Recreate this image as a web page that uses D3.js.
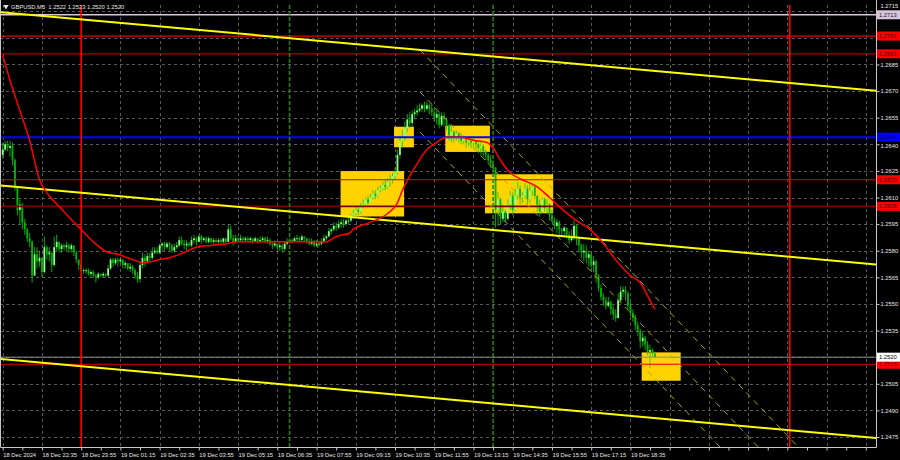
<!DOCTYPE html>
<html><head><meta charset="utf-8">
<script src="https://cdn.jsdelivr.net/npm/d3@7"></script>
<style>html,body{margin:0;padding:0;background:#000;}svg{display:block;}</style>
</head><body><svg id="c" width="900" height="460"></svg>
<script>
// ---------------- DATA ----------------
const symbolTitle = "GBPUSD,M5";
const titleOHLC = ["1.2522", "1.2523", "1.2520", "1.2520"];
// prices in 1/10000 units
const firstOpen = 12634;
const closes = [
12637,12640,12638,12639,12631,12616,12603,12606,12596,12592,
12587,12585,12566,12578,12574,12576,12568,12582,12578,12579,
12572,12582,12585,12581,12583,12582,12583,12581,12583,12579,
12575,12572,12569,12569,12569,12567,12568,12566,12565,12567,
12566,12567,12566,12570,12575,12573,12575,12574,12575,12572,
12573,12570,12571,12569,12566,12564,12572,12576,12574,12577,
12576,12579,12580,12579,12583,12584,12582,12584,12583,12580,
12582,12583,12586,12584,12583,12584,12583,12586,12587,12585,
12588,12586,12587,12585,12587,12585,12586,12585,12586,12585,
12587,12585,12592,12587,12585,12587,12586,12587,12586,12587,
12586,12587,12585,12587,12585,12586,12587,12585,12586,12584,
12583,12584,12582,12583,12581,12584,12585,12586,12585,12587,
12587,12586,12588,12587,12585,12584,12585,12583,12584,12584,
12585,12587,12588,12591,12592,12594,12593,12595,12596,12595,
12597,12597,12600,12601,12603,12602,12605,12606,12609,12607,
12610,12612,12611,12614,12615,12617,12616,12619,12620,12622,
12624,12634,12642,12644,12649,12654,12652,12657,12658,12659,
12660,12662,12660,12662,12660,12658,12655,12657,12651,12656,
12654,12651,12645,12647,12644,12646,12644,12642,12644,12641,
12642,12641,12642,12640,12638,12639,12636,12634,12631,12629,
12627,12603,12609,12598,12602,12598,12606,12611,12603,12611,
12615,12610,12611,12615,12609,12614,12616,12611,12606,12602,
12609,12604,12606,12600,12597,12594,12596,12592,12591,12593,
12589,12586,12588,12594,12587,12583,12579,12580,12576,12578,
12572,12574,12566,12559,12554,12552,12549,12551,12547,12544,
12542,12552,12557,12558,12556,12549,12545,12542,12538,12535,
12529,12531,12527,12523,12524,12522,12520];
const highs = [
12641,12642,12642,12642,12641,12632,12616,12609,12607,12598,
12593,12590,12586,12582,12582,12580,12576,12588,12583,12582,
12579,12588,12589,12584,12584,12584,12585,12584,12584,12583,
12580,12575,12573,12570,12570,12570,12569,12569,12567,12568,
12567,12568,12567,12572,12576,12576,12576,12576,12576,12575,
12574,12573,12573,12572,12570,12568,12574,12579,12578,12579,
12579,12582,12582,12582,12584,12585,12585,12585,12585,12584,
12584,12585,12588,12588,12586,12586,12585,12588,12589,12588,
12589,12589,12588,12588,12588,12587,12587,12587,12587,12587,
12587,12587,12595,12594,12589,12589,12588,12589,12588,12588,
12588,12588,12587,12588,12587,12588,12588,12588,12588,12587,
12585,12586,12584,12585,12584,12585,12587,12587,12587,12588,
12589,12588,12589,12588,12587,12587,12587,12586,12586,12585,
12587,12589,12589,12593,12593,12596,12596,12597,12598,12598,
12598,12599,12601,12603,12605,12605,12607,12609,12610,12611,
12612,12614,12614,12616,12617,12619,12620,12621,12623,12624,
12627,12637,12645,12648,12653,12657,12658,12659,12660,12662,
12663,12663,12664,12664,12663,12663,12660,12659,12658,12658,
12658,12655,12651,12651,12648,12648,12647,12646,12645,12644,
12644,12643,12644,12642,12641,12641,12640,12637,12635,12634,
12631,12627,12613,12610,12606,12603,12609,12614,12613,12615,
12619,12617,12613,12618,12617,12618,12618,12617,12611,12609,
12610,12610,12609,12607,12603,12599,12598,12597,12593,12594,
12593,12591,12592,12597,12595,12588,12584,12584,12583,12580,
12579,12577,12575,12567,12561,12556,12554,12554,12552,12549,
12547,12556,12560,12560,12560,12557,12551,12547,12544,12540,
12536,12534,12532,12529,12527,12525,12523];
const lows = [
12632,12636,12636,12633,12628,12614,12600,12595,12592,12589,
12585,12582,12562,12566,12570,12571,12565,12567,12575,12574,
12568,12571,12580,12579,12579,12580,12580,12579,12579,12577,
12573,12569,12568,12567,12567,12566,12565,12565,12562,12564,
12565,12565,12565,12565,12569,12571,12572,12571,12573,12570,
12570,12569,12568,12567,12564,12562,12562,12570,12571,12573,
12574,12575,12578,12578,12578,12580,12580,12581,12580,12579,
12579,12581,12582,12583,12581,12580,12582,12582,12584,12583,
12585,12584,12585,12584,12584,12584,12584,12584,12584,12584,
12584,12584,12585,12586,12583,12584,12585,12585,12585,12585,
12585,12585,12584,12585,12584,12584,12585,12584,12584,12583,
12581,12582,12580,12580,12579,12580,12583,12584,12584,12585,
12585,12585,12585,12585,12584,12583,12583,12582,12582,12582,
12583,12584,12586,12588,12589,12591,12591,12592,12593,12593,
12594,12595,12596,12598,12600,12600,12601,12604,12605,12606,
12607,12609,12609,12610,12613,12614,12614,12615,12616,12618,
12620,12623,12632,12638,12642,12647,12649,12650,12654,12656,
12658,12658,12658,12659,12657,12656,12653,12651,12649,12650,
12650,12648,12642,12641,12641,12642,12641,12640,12640,12638,
12639,12638,12638,12637,12635,12634,12633,12631,12629,12627,
12624,12593,12594,12595,12596,12596,12597,12603,12600,12602,
12609,12606,12607,12610,12606,12607,12611,12609,12602,12599,
12601,12602,12601,12597,12596,12592,12590,12589,12588,12588,
12587,12584,12585,12586,12583,12579,12576,12574,12573,12571,
12569,12568,12562,12557,12552,12549,12547,12548,12544,12541,
12540,12542,12551,12554,12552,12547,12543,12540,12535,12532,
12525,12526,12524,12521,12514,12520,12520];

// moving average (red) read at bar positions
const maBars   = [0,3,7,11,15,19,23,27,32,37,43,47,51,55,57,61,64,68,74,79,85,91.5,95.6,101,108,114,121,128,132,136,141.6,143,150,157,161,163,166,169,173,177,181,186.5,193,197.5,200,203,207,212,218,223,228.5,234,239.5,245,250.5,256,260,264,266];
const maValues = [12690,12676,12659,12642,12620,12611,12605,12599,12592,12585,12579,12578,12576,12574,12573,12574,12575,12576,12579,12582,12583,12584,12585,12585,12585,12585,12585,12585,12585,12588,12590,12592,12596,12601,12607,12614,12622,12629,12637,12641,12644,12644,12642,12641,12638,12631,12624,12620,12616,12610,12603,12597,12592,12584,12574,12566,12562,12552,12547];

// time axis: bar index 0 = 18 Dec 21:15, 5-minute bars
const timeLabelBars = [0,16,32,48,64,80,96,112,128,144,160,176,192,208,224,240,256];
const timeLabels = ["18 Dec 2024","18 Dec 22:35","18 Dec 23:55","19 Dec 01:15","19 Dec 02:35","19 Dec 03:55","19 Dec 05:15","19 Dec 06:35","19 Dec 07:55","19 Dec 09:15","19 Dec 10:35","19 Dec 11:55","19 Dec 13:15","19 Dec 14:35","19 Dec 15:55","19 Dec 17:15","19 Dec 18:35"];
const priceTicks = [1.2475,1.2490,1.2505,1.2520,1.2535,1.2550,1.2565,1.2580,1.2595,1.2610,1.2625,1.2640,1.2655,1.2670,1.2685,1.2700,1.2715];

// horizontal levels
const levelPrices = [1.2713, 1.2701, 1.2691, 1.2644, 1.2620, 1.2605, 1.2516, 1.2520];
const levelKinds  = ["lav", "red", "red2", "blue", "red", "dred", "red", "bid"];

// vertical markers (bar index)
const redVLineBars = [32, 321];
const greenVLineBars = [117, 200];

// trend lines (yellow): [bar1, price1, bar2, price2]
const trendLines = [
  [-2, 1.27146, 360, 1.26697],
  [-2, 1.26170, 360, 1.25717],
  [-2, 1.25192, 360, 1.24739]];
// descending channel (dashed)
const channelLines = [
  [170.2, 1.26932, 324.4, 1.24694],
  [170.2, 1.26695, 308.1, 1.24694],
  [170.2, 1.26469, 292.5, 1.24694]];

// signal zones
const zoneStart  = [137.8, 159.6, 180.5, 196.7, 260.6];
const zoneEnd    = [163.7, 167.7, 198.7, 224.5, 276.5];
const zoneTop    = [1.26249, 1.26499, 1.26505, 1.26231, 1.25227];
const zoneBottom = [1.25993, 1.26383, 1.26357, 1.26011, 1.25067];

// ---------------- DRAW ----------------
const svg = d3.select("#c");
const plotR = 876, plotT = 5, plotB = 447;
const x = d3.scaleLinear().domain([0, 356]).range([2.7, 2.7 + 356 * 2.452]);
const y = d3.scaleLinear().domain([1.2475, 1.2715]).range([437, 437 - 240 * 1.774]);
const FONT = "Liberation Sans, Arial, sans-serif";
const FS = 5.8;

svg.append("rect").attr("width", 900).attr("height", 460).attr("fill", "#000");
svg.append("defs").append("clipPath").attr("id", "clip")
  .append("rect").attr("x", 1).attr("y", plotT).attr("width", plotR - 1).attr("height", plotB - plotT);

const g = svg.append("g").attr("clip-path", "url(#clip)");

// grid
const gridCol = "#5a5a5a";
g.selectAll(".hg").data(priceTicks).join("line")
  .attr("x1", 0).attr("x2", plotR).attr("y1", d => Math.round(y(d)) + 0.5).attr("y2", d => Math.round(y(d)) + 0.5)
  .attr("stroke", gridCol).attr("stroke-width", 1).attr("stroke-dasharray", "3,3");
const vGridBars = d3.range(0, 357, 16);
g.selectAll(".vg").data(vGridBars).join("line")
  .attr("x1", d => Math.round(x(d)) + 0.5).attr("x2", d => Math.round(x(d)) + 0.5).attr("y1", plotT).attr("y2", plotB)
  .attr("stroke", gridCol).attr("stroke-width", 1).attr("stroke-dasharray", "3,3");

// zones
g.selectAll(".zone").data(zoneStart).join("rect")
  .attr("x", (d, i) => x(d)).attr("width", (d, i) => x(zoneEnd[i]) - x(d))
  .attr("y", (d, i) => y(zoneTop[i])).attr("height", (d, i) => y(zoneBottom[i]) - y(zoneTop[i]))
  .attr("fill", "#ffd200");

// candles
const candles = closes.map((c, i) => {
  const o = i === 0 ? firstOpen : closes[i - 1];
  return { i, o: o / 1e4, c: c / 1e4, h: Math.max(highs[i], o, c) / 1e4, l: Math.min(lows[i], o, c) / 1e4 };
});
const cg = g.append("g");
cg.selectAll(".wick").data(candles).join("line")
  .attr("x1", d => x(d.i)).attr("x2", d => x(d.i)).attr("y1", d => y(d.h)).attr("y2", d => y(d.l))
  .attr("stroke", "#00d000").attr("stroke-width", 0.8);
cg.selectAll(".body").data(candles).join("rect")
  .attr("x", d => x(d.i) - 0.9).attr("width", 1.8)
  .attr("y", d => y(Math.max(d.o, d.c))).attr("height", d => Math.max(0.8, Math.abs(y(d.o) - y(d.c))))
  .attr("fill", d => d.c >= d.o ? "#8dff8d" : "#00b400");

// horizontal levels
const levelStyle = {
  lav: { c: "#d8c4dc", w: 1.5, bg: "#d8c4dc", t: "#202020" },
  red: { c: "#e00000", w: 1.2, bg: "#ff0000", t: "#3a0000" },
  red2: { c: "#b00000", w: 1.2, bg: "#ff0000", t: "#3a0000" },
  dred: { c: "#7a0000", w: 1.8, bg: "#ff0000", t: "#3a0000" },
  blue: { c: "#0000ff", w: 2, bg: "#0000ff", t: "#000030" },
  bid: { c: "#8c8c8c", w: 1, bg: "#ffffff", t: "#000000" }
};
g.selectAll(".lvl").data(levelPrices).join("line")
  .attr("x1", 0).attr("x2", plotR).attr("y1", d => y(d)).attr("y2", d => y(d))
  .attr("stroke", (d, i) => levelStyle[levelKinds[i]].c).attr("stroke-width", (d, i) => levelStyle[levelKinds[i]].w);

// vertical lines
g.selectAll(".rv").data(redVLineBars).join("line")
  .attr("x1", d => x(d)).attr("x2", d => x(d)).attr("y1", plotT).attr("y2", plotB)
  .attr("stroke", "#ff0000").attr("stroke-width", 1.6);
g.selectAll(".gv").data(greenVLineBars).join("line")
  .attr("x1", d => x(d)).attr("x2", d => x(d)).attr("y1", plotT).attr("y2", plotB)
  .attr("stroke", "#2f7d14").attr("stroke-width", 1.6).attr("stroke-dasharray", "4,2");

// channel (dashed)
g.selectAll(".ch").data(channelLines).join("line")
  .attr("x1", d => x(d[0])).attr("y1", d => y(d[1])).attr("x2", d => x(d[2])).attr("y2", d => y(d[3]))
  .attr("stroke", "#a8a800").attr("stroke-width", 1).attr("stroke-dasharray", "6,5");

// trend lines
g.selectAll(".tl").data(trendLines).join("line")
  .attr("x1", d => x(d[0])).attr("y1", d => y(d[1])).attr("x2", d => x(d[2])).attr("y2", d => y(d[3]))
  .attr("stroke", "#ffff00").attr("stroke-width", 2);

// MA
const maLine = d3.line().x(d => x(d[0])).y(d => y(d[1] / 1e4)).curve(d3.curveMonotoneX);
g.append("path").datum(maBars.map((b, i) => [b, maValues[i]]))
  .attr("d", maLine).attr("fill", "none").attr("stroke", "#ff0000").attr("stroke-width", 1.5);

// frame
const frameCol = "#c8c8c8";
svg.append("line").attr("x1", plotR + 0.5).attr("x2", plotR + 0.5).attr("y1", 0).attr("y2", plotB + 0.5).attr("stroke", frameCol);
svg.append("line").attr("x1", 0.5).attr("x2", plotR + 0.5).attr("y1", plotB + 0.5).attr("y2", plotB + 0.5).attr("stroke", frameCol);
svg.append("line").attr("x1", 0.5).attr("x2", 0.5).attr("y1", 0).attr("y2", plotB + 0.5).attr("stroke", frameCol);

// price axis
const yAxis = d3.axisRight(y).tickValues(priceTicks).tickFormat(d3.format(".4f")).tickSize(3).tickPadding(1);
const ya = svg.append("g").attr("transform", `translate(${plotR + 0.5},0)`).call(yAxis);
ya.select(".domain").remove();
ya.selectAll("line").attr("stroke", frameCol);
ya.selectAll("text").attr("fill", "#e6e6e6").attr("font-family", FONT).attr("font-size", FS);
// tick labels hidden behind level labels (as on the terminal), or nudged clear of them
ya.selectAll(".tick").each(function (d) {
  const ty = y(d);
  const near = levelPrices.map(p => Math.abs(y(p) - ty));
  const minD = Math.min(...near);
  const t = d3.select(this).select("text");
  if (minD < 3) t.remove();
  else if (minD < 8) {
    const lp = levelPrices[near.indexOf(minD)];
    const shift = y(lp) > ty ? -(8.5 - minD) : (8.5 - minD);
    t.attr("dy", null).attr("y", shift).attr("dominant-baseline", "middle");
  }
});

// time axis
const tickBars = d3.range(0, 357, 8);
const xAxis = d3.axisBottom(x).tickValues(tickBars)
  .tickFormat(d => { const k = timeLabelBars.indexOf(d); return k >= 0 ? timeLabels[k] : ""; })
  .tickSize(3).tickPadding(2);
const xa = svg.append("g").attr("transform", `translate(0,${plotB + 0.5})`).call(xAxis);
xa.select(".domain").remove();
xa.selectAll("line").attr("stroke", frameCol);
xa.selectAll("text").attr("fill", "#e6e6e6").attr("font-family", FONT).attr("font-size", FS)
  .attr("text-anchor", "start").attr("dx", "0");

// level labels
const lab = svg.append("g");
levelPrices.forEach((p, i) => {
  const s = levelStyle[levelKinds[i]];
  const yy = y(p);
  lab.append("rect").attr("x", plotR + 1).attr("y", yy - 4.5).attr("width", 23).attr("height", 9).attr("fill", s.bg);
  lab.append("text").attr("x", plotR + 3).attr("y", yy).attr("dy", "0.35em")
    .attr("font-family", FONT).attr("font-size", FS).attr("fill", s.t).text(d3.format(".4f")(p));
});

// title
svg.append("path").attr("d", d3.symbol(d3.symbolTriangle, 12)()).attr("transform", "translate(6,6.5) rotate(180)").attr("fill", "#e6e6e6");
svg.append("text").attr("x", 11).attr("y", 9).attr("font-family", FONT).attr("font-size", FS).attr("fill", "#e6e6e6")
  .attr("xml:space", "preserve").text(symbolTitle + "  " + titleOHLC.join(" "));
</script>
</body></html>
